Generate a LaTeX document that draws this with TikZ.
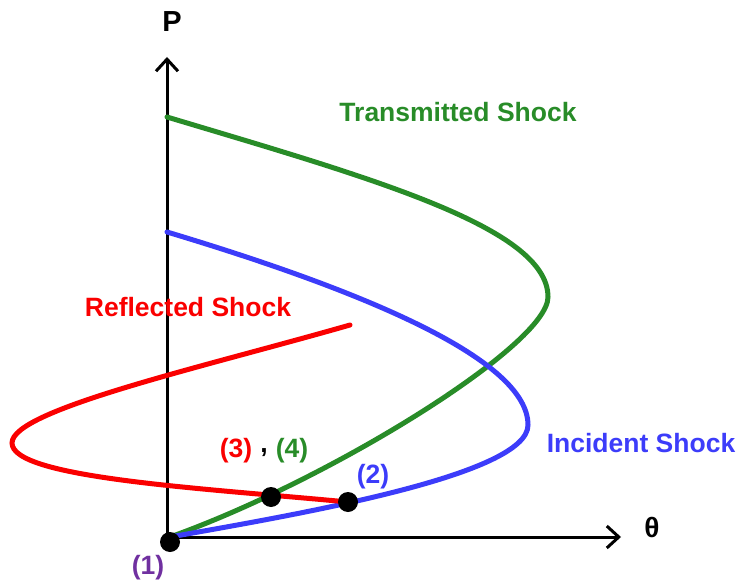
\documentclass[tikz,border=0pt]{standalone}
\usepackage{fontspec}
\setmainfont{Liberation Sans}
\usetikzlibrary{arrows.meta}
\definecolor{tgreen}{RGB}{40,140,40}
\definecolor{iblue}{RGB}{60,60,250}
\definecolor{rred}{RGB}{250,0,0}
\definecolor{ppurple}{RGB}{112,48,160}
\begin{document}
\begin{tikzpicture}[x=1pt,y=-1pt,
  axis/.style={line width=3pt,-{Straight Barb[length=12pt,width=22pt,line width=3pt]}},
  curve/.style={line width=5pt,line cap=round},
  dot/.style={circle,fill=black,inner sep=0pt,minimum size=20pt},
  lbl/.style={font=\fontsize{26.5}{26.5}\selectfont\bfseries,inner sep=0pt}]
\useasboundingbox (0,0) rectangle (741,585);
\coordinate (O) at (167,537);
\coordinate (ytop) at (167,57);
\coordinate (xend) at (621,537);
\draw[axis] (O) -- (ytop);
\draw[axis] (O) -- (xend);
% transmitted
\draw[curve,tgreen] (167,117) .. controls (367,177) and (548,227) .. (548,297)
  .. controls (548,345) and (330,480) .. (170,537);
% incident
\draw[curve,iblue] (167,232) .. controls (367,292) and (528,360) .. (528,425)
  .. controls (528,475) and (300,514) .. (170,537);
% reflected
\draw[curve,rred] (350,325) .. controls (200,368) and (12,410) .. (12,443)
  .. controls (12,478) and (200,488) .. (348,502);
\node[dot] (d1) at (170,542) {};
\node[dot] (d34) at (271,497) {};
\node[dot] (d2) at (348,502) {};
\node[lbl,font=\fontsize{29}{29}\selectfont\bfseries] (P) at (172,22) {P};
\node[lbl,font=\fontsize{28}{28}\selectfont\bfseries] (th) at (652,527) {θ};
\node[lbl,tgreen] (ts) at (458,112) {Transmitted Shock};
\node[lbl,iblue] (is) at (641,443) {Incident Shock};
\node[lbl,rred] (rs) at (188,307) {Reflected Shock};
\node[lbl,rred] (l3) at (236,451) {(3)};
\node[lbl] (cm) at (264,453) {,};
\node[lbl,tgreen] (l4) at (292,451) {(4)};
\node[lbl,iblue] (l2) at (373,477) {(2)};
\node[lbl,ppurple] (l1) at (148,568) {(1)};
\end{tikzpicture}
\end{document}
